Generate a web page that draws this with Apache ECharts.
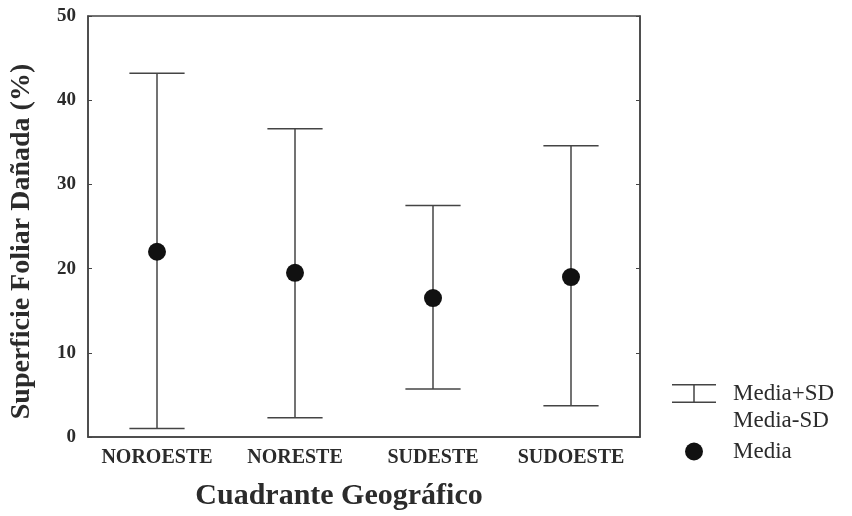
<!DOCTYPE html>
<html>
<head>
<meta charset="utf-8">
<script src="https://cdn.jsdelivr.net/npm/echarts@6/dist/echarts.min.js"></script>
<style>
  html, body { margin: 0; padding: 0; background: #fff; }
  #chart { width: 852px; height: 516px; }
</style>
</head>
<body>
<div id="chart"></div>
<script>
// datos
var categories = ['NOROESTE', 'NORESTE', 'SUDESTE', 'SUDOESTE']
var mediaValues = [22.0, 19.5, 16.5, 19.0]
var upperValues = [43.2, 36.6, 27.5, 34.6] // Media+SD
var lowerValues = [1.0, 2.3, 5.7, 3.7] // Media-SD
var yTicks = [0, 10, 20, 30, 40, 50]

var lineColor = '#444'
var textColor = '#2b2b2b'
var serif = '"Liberation Serif", "DejaVu Serif", serif'

var upperData = categories.map(function(c, i) { return [i, mediaValues[i], upperValues[i]] })
var lowerData = categories.map(function(c, i) { return [i, mediaValues[i], lowerValues[i]] })

// dibuja la mitad de la barra de error: linea desde la media hasta el extremo, con tapa
function renderHalfBar(params, api) {
  var from = api.coord([api.value(0), api.value(1)])
  var to = api.coord([api.value(0), api.value(2)])
  var half = api.size([1, 0])[0] * 0.2
  var style = { stroke: lineColor, lineWidth: 1.5 }
  return {
    type: 'group',
    children: [
      { type: 'line', shape: { x1: from[0], y1: from[1], x2: to[0], y2: to[1] }, style: style },
      { type: 'line', shape: { x1: to[0] - half, y1: to[1], x2: to[0] + half, y2: to[1] }, style: style }
    ]
  }
}

var chart = echarts.init(document.getElementById('chart'))
chart.setOption({
  backgroundColor: '#fff',
  animation: false,
  grid: {
    left: 88,
    right: 212,
    top: 16,
    bottom: 78,
    show: true,
    borderColor: lineColor,
    borderWidth: 1.5
  },
  legend: [{
    orient: 'vertical',
    left: 655,
    top: 377,
    itemWidth: 68,
    itemHeight: 19,
    itemGap: 4,
    selectedMode: false,
    textStyle: { fontFamily: serif, fontSize: 23, color: textColor },
    data: [
      { name: 'Media+SD', icon: 'path://M0,0H44V1.5H0Z M21.25,0H22.75V19H21.25Z M0,17.5H44V19H0Z' },
      { name: 'Media-SD', icon: 'none' }
    ]
  }, {
    orient: 'vertical',
    left: 680,
    top: 435,
    itemWidth: 68,
    itemHeight: 18,
    selectedMode: false,
    textStyle: { fontFamily: serif, fontSize: 23, color: textColor },
    data: [{ name: 'Media', icon: 'circle', itemStyle: { color: '#111', opacity: 1 } }]
  }],
  xAxis: {
    type: 'category',
    data: categories,
    name: 'Cuadrante Geográfico',
    nameLocation: 'middle',
    nameGap: 44,
    nameTextStyle: {
      fontFamily: serif, fontSize: 30, fontWeight: 'bold', color: textColor,
      padding: [0, 50, 0, 0]
    },
    axisLine: { lineStyle: { color: lineColor, width: 1.5 } },
    axisTick: { inside: true, length: 4, lineStyle: { color: lineColor } },
    axisLabel: {
      interval: 0,
      margin: 11,
      fontFamily: serif, fontSize: 20, fontWeight: 'bold', color: textColor
    },
    splitLine: { show: false }
  },
  yAxis: [{
    type: 'value',
    min: yTicks[0],
    max: yTicks[yTicks.length - 1],
    interval: 10,
    name: 'Superficie Foliar Dañada (%)',
    nameLocation: 'middle',
    nameGap: 52,
    nameTextStyle: {
      fontFamily: serif, fontSize: 28, fontWeight: 'bold', color: textColor,
      padding: [0, 30, 0, 0]
    },
    axisLine: { show: true, lineStyle: { color: lineColor, width: 1.5 } },
    axisTick: { show: true, inside: true, length: 4, lineStyle: { color: lineColor } },
    axisLabel: {
      margin: 12,
      fontFamily: serif, fontSize: 19, fontWeight: 'bold', color: textColor
    },
    splitLine: { show: false }
  }, {
    type: 'value',
    position: 'right',
    min: yTicks[0],
    max: yTicks[yTicks.length - 1],
    interval: 10,
    axisLine: { show: true, lineStyle: { color: lineColor, width: 1.5 } },
    axisTick: { show: true, inside: true, length: 4, lineStyle: { color: lineColor } },
    axisLabel: { show: false },
    splitLine: { show: false }
  }],
  series: [{
    name: 'Media+SD',
    type: 'custom',
    renderItem: renderHalfBar,
    itemStyle: { color: lineColor },
    encode: { x: 0, y: [1, 2] },
    data: upperData,
    z: 2
  }, {
    name: 'Media-SD',
    type: 'custom',
    renderItem: renderHalfBar,
    itemStyle: { color: lineColor },
    encode: { x: 0, y: [1, 2] },
    data: lowerData,
    z: 2
  }, {
    name: 'Media',
    type: 'scatter',
    data: mediaValues,
    symbol: 'circle',
    symbolSize: 18,
    itemStyle: { color: '#111', opacity: 1 },
    z: 3
  }]
})
</script>
</body>
</html>
